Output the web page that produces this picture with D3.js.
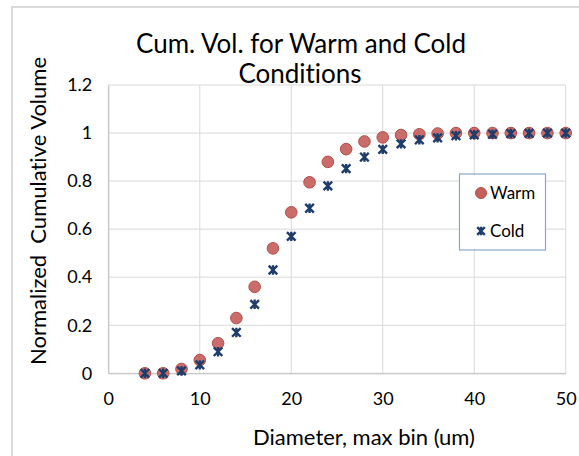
<!DOCTYPE html>
<html>
<head>
<meta charset="utf-8">
<script src="https://cdn.jsdelivr.net/npm/d3@7"></script>
<style>
  body { margin: 0; background: #fff; }
  text { font-family: Lato, "Open Sans", sans-serif; fill: #000; font-variant-ligatures: none; }
</style>
</head>
<body>
<svg id="chart" width="579" height="456"></svg>
<script>
// diameter bins (um)
var diameters = [4, 6, 8, 10, 12, 14, 16, 18, 20, 22, 24, 26, 28, 30, 32, 34, 36, 38, 40, 42, 44, 46, 48, 50];
var warm = [0, 0, 0.018, 0.055, 0.125, 0.23, 0.36, 0.52, 0.67, 0.795, 0.88, 0.933, 0.965, 0.982, 0.992, 0.995, 0.998, 1, 1, 1, 1, 1, 1, 1];
var cold = [0, 0, 0.01, 0.035, 0.09, 0.17, 0.287, 0.43, 0.57, 0.687, 0.78, 0.852, 0.9, 0.932, 0.955, 0.972, 0.98, 0.989, 0.993, 0.995, 0.998, 0.999, 1, 1];
var xTicks = [0, 10, 20, 30, 40, 50];
var yTicks = [0, 0.2, 0.4, 0.6, 0.8, 1, 1.2];

var warm_color = "#c5615d";
var cold_color = "#1f3d6b";
var grid_color = "#d9d9d9";

var svg = d3.select("#chart");

// outer chart frame
svg.append("rect")
  .attr("x", 12).attr("y", 7)
  .attr("width", 600).attr("height", 500)
  .attr("fill", "none")
  .attr("stroke", "#d9d9d9")
  .attr("stroke-width", 2);

var plot = {left: 108.3, right: 565.7, top: 85, bottom: 373.3};

var x = d3.scaleLinear().domain([0, 50]).range([plot.left, plot.right]);
var y = d3.scaleLinear().domain([0, 1.2]).range([plot.bottom, plot.top]);

// gridlines
svg.append("g")
  .selectAll("line.v")
  .data(xTicks)
  .enter().append("line")
  .attr("x1", function(d){ return x(d); })
  .attr("x2", function(d){ return x(d); })
  .attr("y1", plot.top).attr("y2", plot.bottom)
  .attr("stroke", grid_color).attr("stroke-width", 1);

svg.append("g")
  .selectAll("line.h")
  .data(yTicks)
  .enter().append("line")
  .attr("x1", plot.left).attr("x2", plot.right)
  .attr("y1", function(d){ return y(d); })
  .attr("y2", function(d){ return y(d); })
  .attr("stroke", grid_color).attr("stroke-width", 1);

// axes (labels only, lines drawn by grid)
var xAxis = svg.append("g")
  .attr("transform", "translate(0," + plot.bottom + ")")
  .call(d3.axisBottom(x).tickValues(xTicks).tickSize(0).tickPadding(19).tickFormat(d3.format("d")));
xAxis.select(".domain").attr("stroke", "#bfbfbf");
xAxis.selectAll("text").style("font-size", "18px").style("font-family", "Lato");

var yAxis = svg.append("g")
  .attr("transform", "translate(" + plot.left + ",0)")
  .call(d3.axisLeft(y).tickValues(yTicks).tickSize(0).tickPadding(16).tickFormat(function(d){ return d3.format("~g")(d); }));
yAxis.select(".domain").attr("stroke", "#bfbfbf");
yAxis.selectAll("text").style("font-size", "18px").style("font-family", "Lato");

// warm series
svg.append("g")
  .selectAll("circle")
  .data(diameters)
  .enter().append("circle")
  .attr("cx", function(d){ return x(d); })
  .attr("cy", function(d, i){ return y(warm[i]); })
  .attr("r", 5.8)
  .attr("fill", warm_color)
  .attr("fill-opacity", 0.92)
  .attr("stroke", "#b44c48")
  .attr("stroke-width", 1);

// cold series: star marker (x plus vertical stroke)
function star(g, cx, cy, s){
  g.append("path")
    .attr("d", "M" + (cx - s) + "," + (cy - s) + "L" + (cx + s) + "," + (cy + s) +
               "M" + (cx - s) + "," + (cy + s) + "L" + (cx + s) + "," + (cy - s) +
               "M" + cx + "," + (cy - s * 1.1) + "L" + cx + "," + (cy + s * 1.1))
    .attr("stroke", cold_color)
    .attr("stroke-width", 2.4)
    .attr("fill", "none");
}
var coldG = svg.append("g");
diameters.forEach(function(d, i){
  star(coldG, x(d), y(cold[i]), 4.3);
});

// legend
svg.append("rect")
  .attr("x", 459.5).attr("y", 174)
  .attr("width", 86).attr("height", 76)
  .attr("fill", "#fff")
  .attr("stroke", "#8aa5c8")
  .attr("stroke-width", 1.2);
svg.append("circle")
  .attr("cx", 481).attr("cy", 193).attr("r", 5.5)
  .attr("fill", warm_color).attr("stroke", "#b44c48");
svg.append("text")
  .attr("x", 490).attr("y", 199)
  .style("font-size", "17px")
  .text("Warm");
star(svg, 481, 231, 3.8);
svg.append("text")
  .attr("x", 490).attr("y", 237)
  .style("font-size", "17px")
  .text("Cold");

// title
svg.append("text")
  .attr("x", 301).attr("y", 53)
  .attr("text-anchor", "middle")
  .style("font-size", "26px")
  .text("Cum. Vol. for Warm and Cold");
svg.append("text")
  .attr("x", 300).attr("y", 83)
  .attr("text-anchor", "middle")
  .style("font-size", "26px")
  .text("Conditions");

// axis titles
svg.append("text")
  .attr("x", 364).attr("y", 445)
  .attr("text-anchor", "middle")
  .style("font-size", "22px")
  .text("Diameter, max bin (um)");

svg.append("text")
  .attr("transform", "translate(46,211) rotate(-90)")
  .attr("text-anchor", "middle")
  .style("font-size", "22px")
  .style("white-space", "pre")
  .text("Normalized  Cumulative Volume");
</script>
</body>
</html>
